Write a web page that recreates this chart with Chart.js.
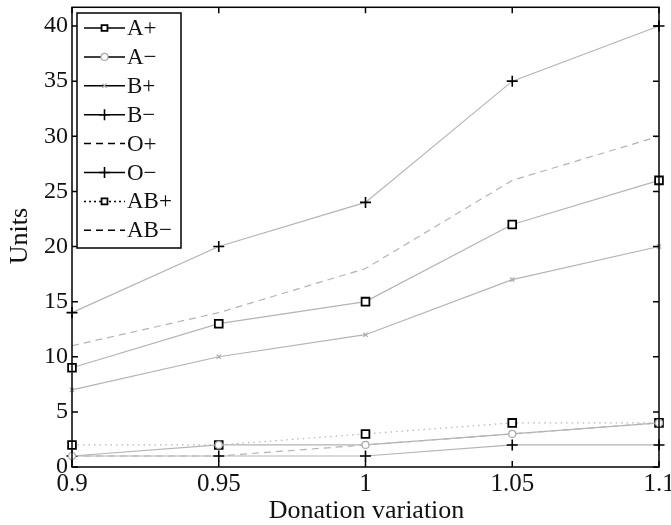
<!DOCTYPE html>
<html>
<head>
<meta charset="utf-8">
<script src="https://cdn.jsdelivr.net/npm/chart.js@4.4.0/dist/chart.umd.min.js"></script>
<style>
html, body { margin: 0; padding: 0; background: #fff; }
#canvas-container { width: 671px; height: 525px; }
</style>
</head>
<body>
<div id="canvas-container"><canvas id="canvas" width="671" height="525"></canvas></div>
<script>
// values
var donation = [0.9, 0.95, 1, 1.05, 1.1];
var xTickLabels = ['0.9', '0.95', '1', '1.05', '1.1'];
var yTicks = [0, 5, 10, 15, 20, 25, 30, 35, 40];

var aPos  = [9, 13, 15, 22, 26];
var aNeg  = [1, 2, 2, 3, 4];
var bPos  = [7, 10, 12, 17, 20];
var bNeg  = [14, 20, 24, 35, 40];
var oPos  = [11, 14, 18, 26, 30];
var oNeg  = [1, 1, 1, 2, 2];
var abPos = [2, 2, 3, 4, 4];
var abNeg = [1, 1, 2, 3, 4];

var lineGrey = '#b4b4b4';
var serif = '"Liberation Serif", "DejaVu Serif", serif';

function pts(vals){
    var out = [];
    for(var i = 0; i < vals.length; i++){
        out.push({x: donation[i], y: vals[i]});
    }
    return out;
}

// legendDash: dash of the sample line in the legend box
function series(label, vals, opts){
    var ds = {
        label: label,
        data: pts(vals),
        borderColor: lineGrey,
        borderWidth: 1.2,
        backgroundColor: '#fff',
        pointStyle: opts.style || false,
        pointRadius: opts.radius || 0,
        pointBorderColor: opts.markColor || '#000',
        pointBackgroundColor: '#fff',
        pointBorderWidth: opts.markWidth || 1.8,
        borderDash: opts.dash || [],
        tension: 0,
        clip: false,
        legendDash: opts.legendDash || []
    };
    return ds;
}

var datasets = [
    series('A+',  aPos,  {style: 'rect', radius: 5.5}),
    series('A\u2212',  aNeg,  {style: 'circle', radius: 3.5, markColor: '#aaa', markWidth: 1.2}),
    series('B+',  bPos,  {style: 'crossRot', radius: 3, markColor: '#aaa', markWidth: 1.2}),
    series('B\u2212',  bNeg,  {style: 'cross', radius: 5.5, markWidth: 1.6}),
    series('O+',  oPos,  {dash: [7, 5], legendDash: [7, 5]}),
    series('O\u2212',  oNeg,  {style: 'cross', radius: 5.5, markWidth: 1.6}),
    series('AB+', abPos, {style: 'rect', radius: 5.5, dash: [1.5, 4], legendDash: [2, 3]}),
    series('AB\u2212', abNeg, {dash: [7, 5], legendDash: [7, 5]})
];

// frame, inward ticks, axis titles and legend box
var matlabLook = {
    id: 'matlabLook',
    afterDraw: function(chart){
        var ctx = chart.ctx, a = chart.chartArea;
        var xs = chart.scales.x, ys = chart.scales.y;
        ctx.save();
        ctx.strokeStyle = '#000';
        ctx.lineWidth = 1.5;
        ctx.setLineDash([]);
        ctx.strokeRect(a.left, a.top, a.right - a.left, a.bottom - a.top);
        ctx.beginPath();
        donation.forEach(function(v){
            var px = xs.getPixelForValue(v);
            ctx.moveTo(px, a.bottom); ctx.lineTo(px, a.bottom - 6);
            ctx.moveTo(px, a.top); ctx.lineTo(px, a.top + 6);
        });
        yTicks.forEach(function(v){
            var py = ys.getPixelForValue(v);
            ctx.moveTo(a.left, py); ctx.lineTo(a.left + 6, py);
            ctx.moveTo(a.right, py); ctx.lineTo(a.right - 6, py);
        });
        ctx.stroke();

        // axis titles
        ctx.fillStyle = '#111';
        ctx.font = '26px ' + serif;
        ctx.textAlign = 'center';
        ctx.textBaseline = 'middle';
        ctx.fillText('Donation variation', (a.left + a.right) / 2 + 1, 511);
        ctx.save();
        ctx.translate(20, 236);
        ctx.rotate(-Math.PI / 2);
        ctx.fillText('Units', 0, 0);
        ctx.restore();

        // legend
        var bx = 77, by = 13, bw = 104, bh = 235;
        ctx.fillStyle = '#fff';
        ctx.fillRect(bx, by, bw, bh);
        ctx.strokeRect(bx, by, bw, bh);
        ctx.font = '23px ' + serif;
        ctx.textAlign = 'left';
        chart.data.datasets.forEach(function(ds, i){
            var y = 28 + i * 28.9;
            ctx.strokeStyle = '#000';
            ctx.lineWidth = 1.5;
            ctx.setLineDash(ds.legendDash);
            ctx.beginPath();
            ctx.moveTo(84, y); ctx.lineTo(125, y);
            ctx.stroke();
            ctx.setLineDash([]);
            if(ds.pointStyle){
                ctx.strokeStyle = ds.pointBorderColor;
                ctx.fillStyle = '#fff';
                ctx.lineWidth = ds.pointBorderWidth;
                var r = ds.pointStyle == 'rect' ? 4.2 : ds.pointRadius;
                Chart.helpers.drawPoint(ctx, {pointStyle: ds.pointStyle, radius: r, rotation: 0, borderWidth: ds.pointBorderWidth}, 104.5, y);
            }
            ctx.fillStyle = '#111';
            ctx.fillText(ds.label, 127, y + 1);
        });
        ctx.restore();
    }
};

var canvasCxt = document.getElementById('canvas').getContext('2d');
var unitsChart = new Chart(canvasCxt, {
    type: 'line',
    data: { datasets: datasets },
    plugins: [matlabLook],
    options: {
        responsive: false,
        animation: false,
        layout: { padding: { top: 6, right: 12, left: 0, bottom: 0 } },
        plugins: { legend: { display: false }, tooltip: { enabled: false } },
        scales: {
            x: {
                type: 'linear',
                min: 0.9, max: 1.1,
                afterBuildTicks: function(s){ s.ticks = donation.map(function(v){ return {value: v}; }); },
                afterFit: function(s){ s.height = 58; s.paddingLeft = 0; s.paddingRight = 0; },
                grid: { display: false, drawTicks: false },
                border: { display: false },
                ticks: {
                    padding: 2,
                    color: '#111',
                    font: { family: serif, size: 25 },
                    maxRotation: 0,
                    callback: function(v, i){ return xTickLabels[i]; }
                }
            },
            y: {
                min: 0, max: 41.7,
                afterBuildTicks: function(s){ s.ticks = yTicks.map(function(v){ return {value: v}; }); },
                afterFit: function(s){ s.width = 72; s.paddingTop = 0; s.paddingBottom = 0; },
                grid: { display: false, drawTicks: false },
                border: { display: false },
                ticks: {
                    padding: 4,
                    color: '#111',
                    font: { family: serif, size: 24 },
                    callback: function(v){ return String(v); }
                }
            }
        }
    }
});
</script>
</body>
</html>
